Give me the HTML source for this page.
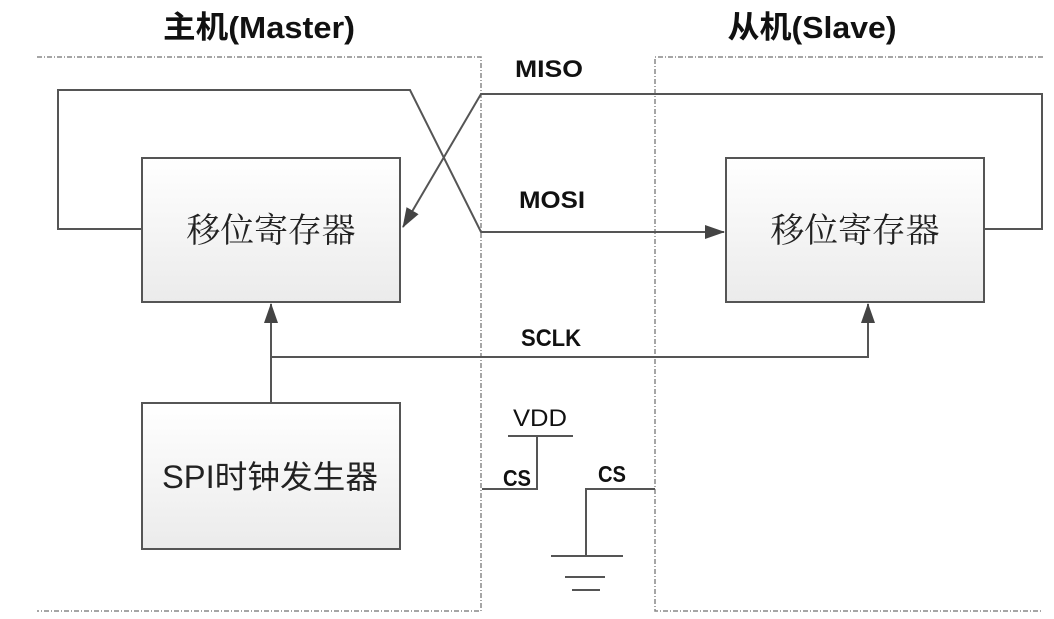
<!DOCTYPE html>
<html><head><meta charset="utf-8"><style>
html,body{margin:0;padding:0;background:#fff;width:1054px;height:619px;overflow:hidden}
</style></head><body>
<svg width="1054" height="619" viewBox="0 0 1054 619" xmlns="http://www.w3.org/2000/svg">
<defs>
<linearGradient id="g" x1="0" y1="0" x2="0" y2="1"><stop offset="0" stop-color="#ffffff"/><stop offset="1" stop-color="#ebebeb"/></linearGradient>
<marker id="b" markerWidth="20" markerHeight="14" refX="19" refY="7" orient="auto" markerUnits="userSpaceOnUse"><path d="M0,0 L20,7 L0,14 Z" fill="#444"/></marker>
</defs>
<g font-family="'Liberation Sans','Noto Sans CJK SC',sans-serif" font-weight="bold" fill="#111">
<text x="259" y="38" font-size="31" text-anchor="middle" textLength="192" lengthAdjust="spacingAndGlyphs">主机(Master)</text>
<text x="812" y="38" font-size="31" text-anchor="middle" textLength="169" lengthAdjust="spacingAndGlyphs">从机(Slave)</text>
<text x="549" y="77" font-size="24" text-anchor="middle" textLength="68" lengthAdjust="spacingAndGlyphs">MISO</text>
<text x="552" y="208" font-size="24" text-anchor="middle" textLength="66" lengthAdjust="spacingAndGlyphs">MOSI</text>
<text x="551" y="346" font-size="24" text-anchor="middle" textLength="60" lengthAdjust="spacingAndGlyphs">SCLK</text>
<text x="517" y="486" font-size="23" text-anchor="middle" textLength="28" lengthAdjust="spacingAndGlyphs">CS</text>
<text x="612" y="482" font-size="23" text-anchor="middle" textLength="28" lengthAdjust="spacingAndGlyphs">CS</text>
</g>
<text x="540" y="426" font-size="24" text-anchor="middle" font-family="'Liberation Sans',sans-serif" fill="#111" textLength="54" lengthAdjust="spacingAndGlyphs">VDD</text>
<g fill="none" stroke="#888" stroke-width="1.5" stroke-dasharray="5,2,1,2">
<path d="M37,57 H481 V611 H37"/>
<path d="M1043,57 H655 V611 H1043"/>
</g>
<g fill="none" stroke="#555" stroke-width="2">
<path d="M142,229 H58 V90 H410 L481,232 H724" marker-end="url(#b)"/>
<path d="M984,229 H1042 V94 H481 L403,227" marker-end="url(#b)"/>
<path d="M271,403 V304" marker-end="url(#b)"/>
<path d="M271,357 H868 V304" marker-end="url(#b)"/>
<path d="M508,436 H573 M537,436 V489 H482"/>
<path d="M655,489 H586 V556 M551,556 H623 M565,577 H605 M572,590 H600"/>
</g>
<g stroke="#555" stroke-width="2" fill="url(#g)">
<rect x="142" y="158" width="258" height="144"/>
<rect x="726" y="158" width="258" height="144"/>
<rect x="142" y="403" width="258" height="146"/>
</g>
<g fill="#222" text-anchor="middle">
<text x="271" y="242" font-size="34" font-family="'Noto Serif CJK SC',serif" textLength="169" lengthAdjust="spacingAndGlyphs">移位寄存器</text>
<text x="855" y="242" font-size="34" font-family="'Noto Serif CJK SC',serif" textLength="169" lengthAdjust="spacingAndGlyphs">移位寄存器</text>
<text x="270" y="488" font-size="32" font-family="'Liberation Sans','Noto Sans CJK SC',sans-serif" textLength="216" lengthAdjust="spacingAndGlyphs">SPI时钟发生器</text>
</g>
</svg>
</body></html>
